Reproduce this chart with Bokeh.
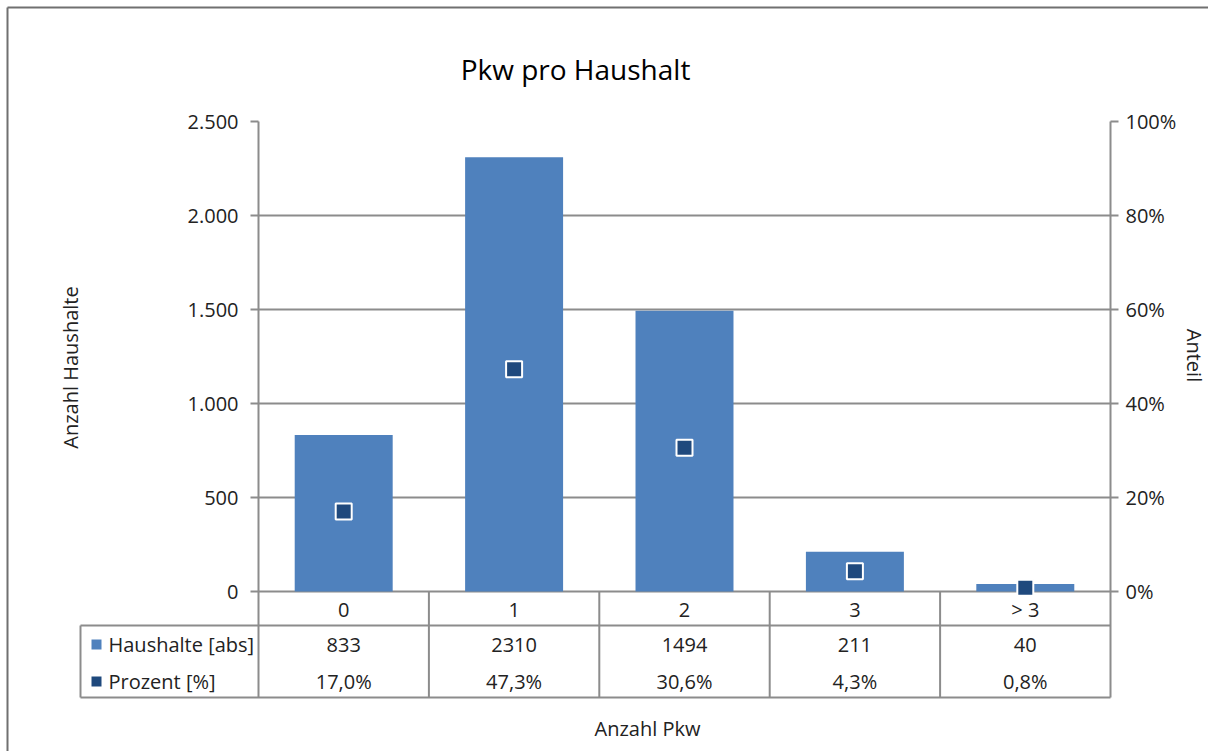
from math import pi
from bokeh.plotting import figure
from bokeh.models import Range1d, LinearAxis, FixedTicker, PrintfTickFormatter
from bokeh.core.properties import value
from bokeh.embed import file_html
from bokeh.resources import INLINE

# ---------------- data ----------------
categories = ["0", "1", "2", "3", "> 3"]
haushalte = [833, 2310, 1494, 211, 40]
prozent = [17.0, 47.3, 30.6, 4.3, 0.8]
left_ticks = [0, 500, 1000, 1500, 2000, 2500]
left_tick_labels = ["0", "500", "1.000", "1.500", "2.000", "2.500"]
right_ticks = [0, 20, 40, 60, 80, 100]
series_names = ["Haushalte [abs]", "Prozent [%]"]
title_text = "Pkw pro Haushalt"
x_title = "Anzahl Pkw"
y_title = "Anzahl Haushalte"
y2_title = "Anteil"

# ---------------- geometry (page pixels) ----------------
W, H = 1208, 751
OFF = 0
PL, PR, PT, PB = 258, 1110, 121, 591   # plot area
TB = 697                               # table bottom
YMAX = 2500
NCAT = len(categories)
xpos = [i + 0.5 for i in range(NCAT)]  # category centres on the x scale


def xnum(px):
    return (px - PL) / (PR - PL) * NCAT


def ydat(py):
    return (PB - py) / (PB - PT) * YMAX


FONT = "Open Sans"
TXT = "#222222"
GRID = "#8c8c8c"
BAR = "#4F81BD"
MARK = "#1F497D"

p = figure(width=W, height=H, output_backend="svg", toolbar_location=None,
           x_range=Range1d(0, NCAT),
           y_range=Range1d(ydat(TB), YMAX),
           x_axis_location=None, tools="",
           min_border_left=PL - OFF, min_border_right=W - (PR - OFF),
           min_border_top=PT - OFF, min_border_bottom=H - (TB - OFF))
p.extra_y_ranges = {"pct": Range1d(ydat(TB) / YMAX * 100, 100)}
p.outline_line_color = None
p.background_fill_color = "white"
p.border_fill_color = "white"

# left axis
lt = FixedTicker(ticks=left_ticks)
ax = p.yaxis[0]
ax.ticker = lt
ax.major_label_overrides = {t: s for t, s in zip(left_ticks, left_tick_labels)}

# right axis
rax = LinearAxis(y_range_name="pct", ticker=FixedTicker(ticks=right_ticks),
                 formatter=PrintfTickFormatter(format="%d%%"))
p.add_layout(rax, "right")

for a, st in ((ax, 12), (rax, 7)):
    a.axis_line_color = GRID
    a.axis_line_width = 2
    a.major_tick_line_color = GRID
    a.major_tick_line_width = 2
    a.major_tick_out = 8
    a.major_tick_in = 0
    a.minor_tick_line_color = None
    a.major_label_text_font = FONT
    a.major_label_text_font_size = "20px"
    a.major_label_text_color = TXT
    a.major_label_standoff = st

p.xgrid.visible = False
p.ygrid.ticker = lt
p.ygrid.grid_line_color = GRID
p.ygrid.grid_line_width = 2

# bars and markers
p.vbar(x=xpos, top=haushalte, width=0.575, fill_color=BAR, line_color=None)
p.scatter(x=xpos, y=prozent, y_range_name="pct", marker="square", size=16,
          fill_color=MARK, line_color="white", line_width=2)

# ---------------- data table ----------------
row_cat, row1, row2 = ydat(609), ydat(644), ydat(681)
# vertical lines between categories
p.segment(x0=list(range(1, NCAT)), y0=[0] * (NCAT - 1), x1=list(range(1, NCAT)),
          y1=[ydat(TB)] * (NCAT - 1), line_color=GRID,
          line_width=2, level="overlay")
# horizontal lines + left border of the legend column
p.segment(x0=[xnum(80), xnum(80), xnum(80)], y0=[ydat(625), ydat(TB), ydat(625)],
          x1=[NCAT, NCAT, xnum(80)], y1=[ydat(625), ydat(TB), ydat(TB)],
          line_color=GRID, line_width=2, level="overlay")

tstyle = dict(text_font=value(FONT), text_font_size="20px", text_color=TXT,
              text_baseline="middle")
p.text(x=xpos, y=[row_cat] * NCAT, text=categories, text_align="center", **tstyle)
p.text(x=xpos, y=[row1] * NCAT, text=[str(v) for v in haushalte],
       text_align="center", **tstyle)
p.text(x=xpos, y=[row2] * NCAT,
       text=[f"{v:.1f}%".replace(".", ",") for v in prozent],
       text_align="center", **tstyle)

# legend keys in the table (short thick strokes)
p.segment(x0=[xnum(91), xnum(91)], y0=[row1, row2], x1=[xnum(101), xnum(101)],
          y1=[row1, row2], line_color=[BAR, MARK], line_width=10,
          line_cap="butt", level="overlay")
p.text(x=[xnum(108), xnum(108)], y=[row1, row2], text=series_names,
       text_align="left", level="overlay", **tstyle)

# outer chart border (top and left)
p.segment(x0=[xnum(7), xnum(7)], y0=[ydat(7), ydat(7)], x1=[xnum(W + 10), xnum(7)],
          y1=[ydat(7), ydat(H + 10)], line_color="#707070",
          line_width=2, level="overlay")

# ---------------- titles ----------------
p.text(x=[xnum(575)], y=[ydat(68)], text=[title_text], text_font=value(FONT),
       text_font_size="28px", text_color="#000000", text_align="center",
       text_baseline="middle", level="overlay")
p.text(x=[xnum(70)], y=[ydat(367)], text=[y_title], angle=pi / 2,
       text_align="center", level="overlay", **tstyle)
p.text(x=[xnum(1194)], y=[ydat(355)], text=[y2_title], angle=-pi / 2,
       text_align="center", level="overlay", **tstyle)
p.text(x=[xnum(647)], y=[ydat(728)], text=[x_title],
       text_align="center", level="overlay", **tstyle)

open("out.html", "w").write(file_html(p, INLINE))
